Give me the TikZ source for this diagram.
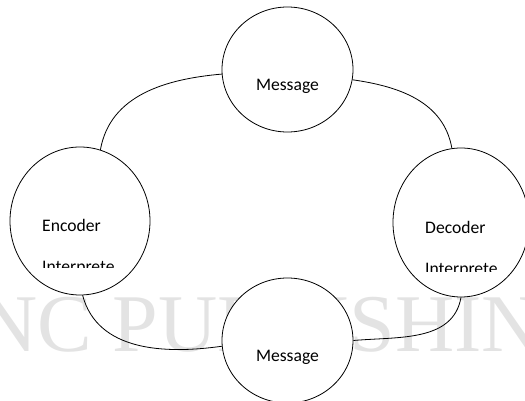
\documentclass[tikz,border=0pt]{standalone}
\usepackage{fontspec}
\setmainfont{Carlito}
\newfontfamily\wmfont{Liberation Serif}
\usetikzlibrary{shapes.geometric}

\begin{document}
\begin{tikzpicture}[x=1pt, y=1pt,
    bubble/.style={draw, fill=white, ellipse, line width=0.8pt, inner sep=0pt},
    word/.style={font=\fontsize{17.6}{20}\selectfont, inner sep=0pt},
    link/.style={line width=0.8pt}]
    \useasboundingbox (0, 0) rectangle (525, 401);
    \clip (0, 0) rectangle (525, 401);

    % watermark behind everything
    \node[anchor=base west, inner sep=0pt, text=black!11,
          font=\wmfont\fontsize{82}{90}\selectfont] (mark) at (-22, 49) {NC PUBLISHIN};

    \node[bubble, minimum width=131, minimum height=125] (msgtop) at (287.5, 331.5) {};
    \node[bubble, minimum width=140, minimum height=148] (enc) at (80, 180) {};
    \node[bubble, minimum width=136, minimum height=149] (dec) at (461, 178.5) {};
    \node[bubble, minimum width=131, minimum height=125] (msgbot) at (287.5, 60.5) {};

    \node[word, anchor=base] (msgtoptext) at ([yshift=-21.5]msgtop.center) {Message};
    \node[word, anchor=base] (msgbottext) at ([yshift=-21.5]msgbot.center) {Message};
    \node[word, anchor=base west] (enctext) at ([xshift=-38, yshift=-11]enc.center) {Encoder};
    \node[word, anchor=base west] (dectext) at ([xshift=-36, yshift=-11.5]dec.center) {Decoder};

    % second lines are cut off at the bottom
    \begin{scope}
        \clip (30, 133) rectangle (140, 150);
        \node[word, anchor=base west] (encsub) at (42, 128) {Interprete};
    \end{scope}
    \begin{scope}
        \clip (410, 129) rectangle (520, 146);
        \node[word, anchor=base west] (decsub) at (425, 126.5) {Interprete};
    \end{scope}

    \draw[link] (msgtop.184) to[out=185, in=80] (enc.74);
    \draw[link] (msgtop.351) to[out=-8, in=100] (dec.97);
    \draw[link] (enc.272) to[out=-75, in=188] (msgbot.185);
    \draw[link] (msgbot.0) to[out=5, in=-100] (dec.270);
\end{tikzpicture}
\end{document}
